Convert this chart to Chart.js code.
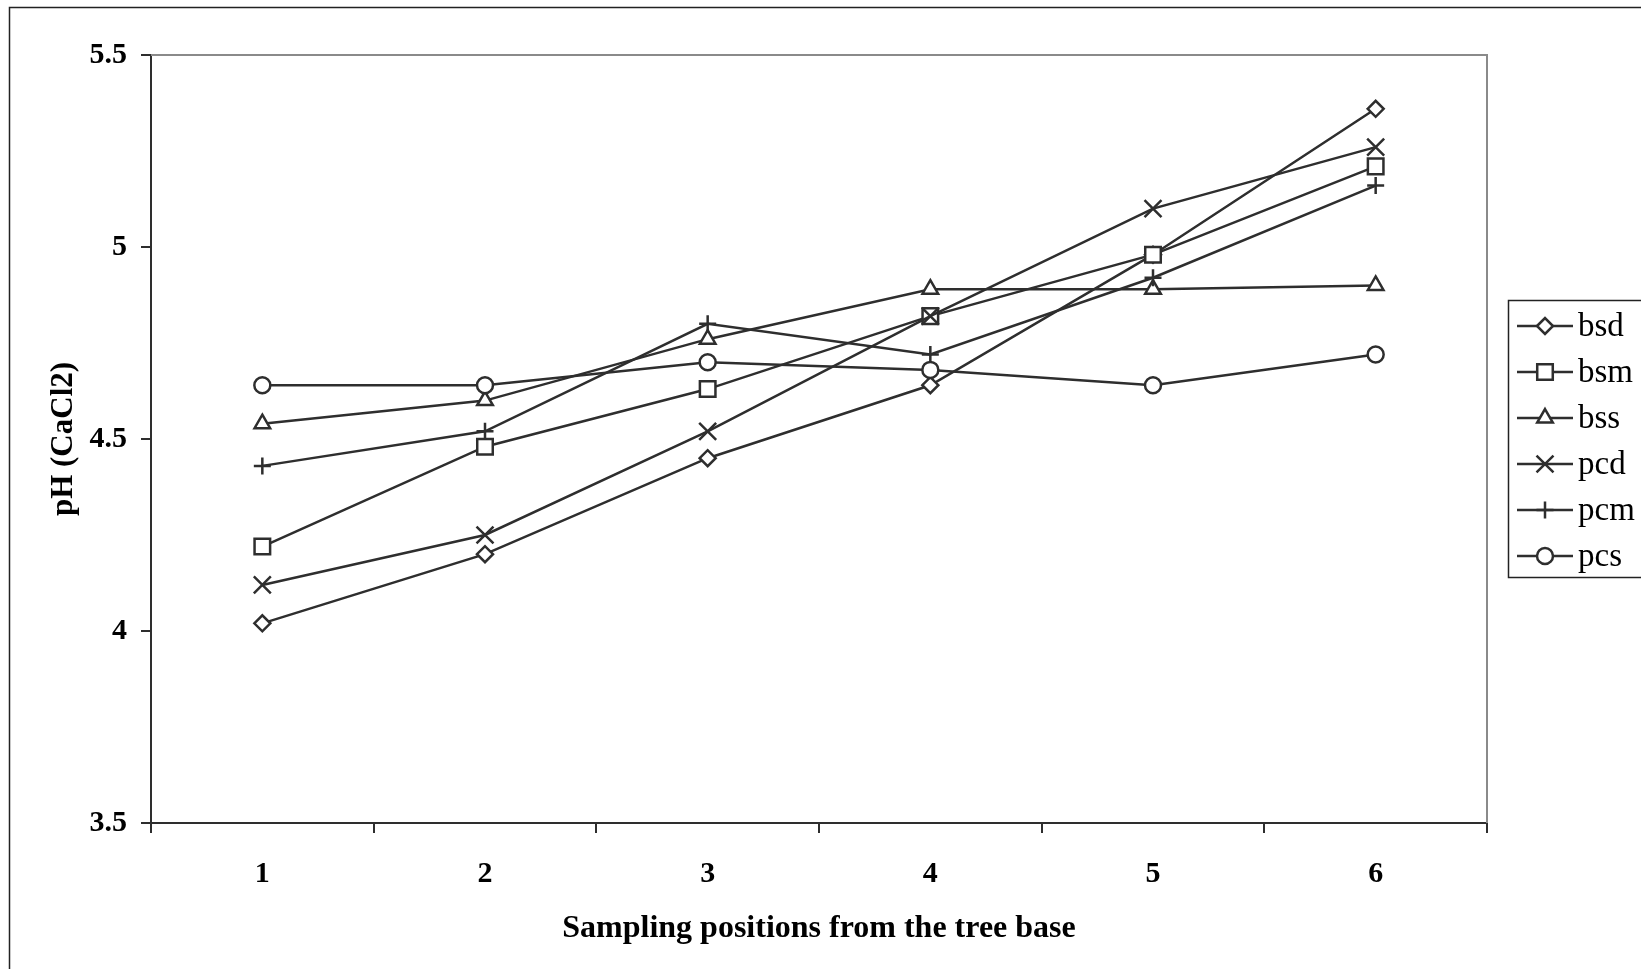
<!DOCTYPE html>
<html>
<head>
<meta charset="utf-8">
<script src="https://cdn.jsdelivr.net/npm/chart.js@4.4.1/dist/chart.umd.min.js"></script>
<style>
html,body{margin:0;padding:0;background:#fff;}
#wrap{width:1641px;height:969px;position:relative;}
</style>
</head>
<body>
<div id="wrap"><canvas id="c" width="1641" height="969"></canvas></div>
<script>
const categories = ['1','2','3','4','5','6'];
const bsd = [4.02, 4.20, 4.45, 4.64, 4.98, 5.36];
const bsm = [4.22, 4.48, 4.63, 4.82, 4.98, 5.21];
const bss = [4.54, 4.60, 4.76, 4.89, 4.89, 4.90];
const pcd = [4.12, 4.25, 4.52, 4.82, 5.10, 5.26];
const pcm = [4.43, 4.52, 4.80, 4.72, 4.92, 5.16];
const pcs = [4.64, 4.64, 4.70, 4.68, 4.64, 4.72];
const seriesNames = ['bsd','bsm','bss','pcd','pcm','pcs'];
const yTicks = [3.5, 4, 4.5, 5, 5.5];

const INK = '#2e2e2e';
const FONT = '"Liberation Serif", "Times New Roman", serif';

function ds(i, data, style, r) {
  return {
    label: seriesNames[i], data,
    order: 5 - i,
    borderColor: INK, borderWidth: 2.5,
    pointStyle: style, pointRadius: r, pointHoverRadius: r,
    pointBackgroundColor: '#ffffff', pointBorderColor: INK, pointBorderWidth: 2.5,
    fill: false, tension: 0
  };
}

const datasets = [
  ds(0, bsd, 'rectRot', 8),
  ds(1, bsm, 'rect', 11),
  ds(2, bss, 'triangle', 9),
  ds(3, pcd, 'crossRot', 12),
  ds(4, pcm, 'cross', 8.5),
  ds(5, pcs, 'circle', 8)
];

const framePlugin = {
  id: 'frame',
  beforeDatasetsDraw(chart) {
    const {ctx, chartArea: a} = chart;
    ctx.save();
    ctx.strokeStyle = '#8a8a8a';
    ctx.lineWidth = 2;
    ctx.beginPath();
    ctx.moveTo(a.left, a.top);
    ctx.lineTo(a.right, a.top);
    ctx.lineTo(a.right, a.bottom);
    ctx.stroke();
    ctx.restore();
  },
  afterDraw(chart) {
    const {ctx} = chart;
    ctx.save();
    // outer border (cropped at right and bottom)
    ctx.strokeStyle = '#222';
    ctx.lineWidth = 1.5;
    ctx.beginPath();
    ctx.moveTo(9.5, 969);
    ctx.lineTo(9.5, 7.5);
    ctx.lineTo(1641, 7.5);
    ctx.stroke();
    // legend box
    ctx.strokeRect(1508.5, 300.5, 200, 277);
    chart.data.datasets.forEach((d, i) => {
      const y = 326 + i * 46;
      ctx.strokeStyle = INK;
      ctx.lineWidth = 2.5;
      ctx.beginPath();
      ctx.moveTo(1517, y);
      ctx.lineTo(1573, y);
      ctx.stroke();
      ctx.fillStyle = '#fff';
      ctx.strokeStyle = INK;
      ctx.lineWidth = 2.5;
      Chart.helpers.drawPoint(ctx, {pointStyle: d.pointStyle, radius: d.pointRadius, rotation: 0, borderWidth: 2.5}, 1545, y);
      ctx.font = '33px ' + FONT;
      ctx.fillStyle = '#000';
      ctx.textBaseline = 'middle';
      ctx.textAlign = 'left';
      ctx.fillText(d.label, 1578, y + 1);
    });
    ctx.restore();
  }
};

new Chart(document.getElementById('c'), {
  type: 'line',
  data: { labels: categories, datasets },
  options: {
    responsive: false,
    animation: false,
    devicePixelRatio: 1,
    layout: { padding: { left: 0, top: 55, right: 154, bottom: 0 } },
    plugins: { legend: { display: false }, tooltip: { enabled: false } },
    scales: {
      x: {
        type: 'category',
        offset: true,
        grid: { display: true, offset: true, drawOnChartArea: false, tickLength: 10, color: INK, lineWidth: 2 },
        border: { display: true, color: INK, width: 2 },
        ticks: { color: '#000', font: { family: FONT, size: 30, weight: 'bold' }, padding: 23, maxRotation: 0 },
        title: { display: true, text: 'Sampling positions from the tree base', color: '#000',
                 font: { family: FONT, size: 32, weight: 'bold' }, padding: { top: 0, bottom: 21 } },
        afterFit(s) { s.height = 969 - 823; }
      },
      y: {
        min: 3.5, max: 5.5,
        afterBuildTicks(s) { s.ticks = yTicks.map(v => ({ value: v })); },
        grid: { display: true, drawOnChartArea: false, tickLength: 10, color: INK, lineWidth: 2 },
        border: { display: true, color: INK, width: 2 },
        ticks: { color: '#000', font: { family: FONT, size: 30, weight: 'bold' }, padding: 14,
                 callback: (v) => String(v) },
        title: { display: true, text: 'pH (CaCl2)', color: '#000',
                 font: { family: FONT, size: 31, weight: 'bold' }, padding: { top: 45, bottom: 0 } },
        afterFit(s) { s.width = 151; }
      }
    }
  },
  plugins: [framePlugin]
});
</script>
</body>
</html>
